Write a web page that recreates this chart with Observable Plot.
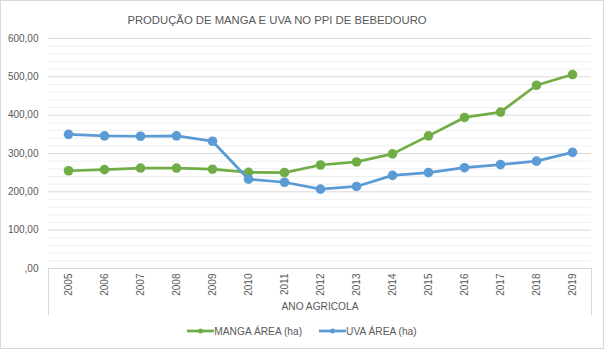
<!DOCTYPE html>
<html>
<head>
<meta charset="utf-8">
<script src="https://cdn.jsdelivr.net/npm/d3@7"></script>
<script src="https://cdn.jsdelivr.net/npm/@observablehq/plot@0.6"></script>
<style>
  html, body { margin: 0; padding: 0; background: #fff; }
  #chart { position: relative; width: 604px; height: 349px; box-sizing: border-box; border: 1px solid #d9d9d9; background: #fff; font-family: "Liberation Sans", Arial, sans-serif; color: #595959; }
  #title { width: 552px; height: 30px; box-sizing: border-box; padding-top: 13px; line-height: 13px; text-align: center; font-size: 11.3px; white-space: nowrap; }
  #box { position: absolute; left: 47px; top: 267px; width: 544px; height: 47px; box-sizing: border-box; border-left: 1px solid #d9d9d9; border-right: 1px solid #d9d9d9; }
  #legend { display: flex; justify-content: center; align-items: center; gap: 17px; height: 24px; font-size: 10.2px; }
  .item { display: flex; align-items: center; }
  .item svg { display: block; }
  svg.plot { display: block; }
</style>
</head>
<body>
<div id="chart">
  <div id="title">PRODUÇÃO DE MANGA E UVA NO PPI DE BEBEDOURO</div>
  <div id="plot"></div>
  <div id="legend"></div>
  <div id="box"></div>
</div>
<script>
const years = ["2005","2006","2007","2008","2009","2010","2011","2012","2013","2014","2015","2016","2017","2018","2019"];
const manga = [255, 258, 262, 262, 259, 251, 250, 270, 278, 299, 346, 394, 408, 478, 506];
const uva   = [350, 346, 345, 346, 332, 233, 225, 207, 214, 243, 250, 263, 271, 280, 303];
const seriesNames = ["MANGA ÁREA (ha)", "UVA ÁREA (ha)"];
const seriesColors = ["#70ad47", "#5b9bd5"];
const yTicks = [0, 100, 200, 300, 400, 500, 600];
const yMinor = [20, 40, 60, 80, 120, 140, 160, 180, 220, 240, 260, 280, 320, 340, 360, 380, 420, 440, 460, 480, 520, 540, 560, 580];
const xLabel = "ANO AGRICOLA";

const mangaData = years.map((y, i) => ({year: y, value: manga[i]}));
const uvaData = years.map((y, i) => ({year: y, value: uva[i]}));

const fmt = v => v === 0 ? ",00" : v.toFixed(2).replace(".", ",");

const chart = Plot.plot({
  width: 602,
  height: 288,
  marginTop: 7,
  marginBottom: 51,
  marginLeft: 47,
  marginRight: 12,
  style: {fontFamily: "'Liberation Sans', Arial, sans-serif", fontSize: "10px", color: "#595959", background: "#fff"},
  x: {type: "point", domain: years, padding: 0.5, axis: null},
  y: {domain: [0, 600], axis: null},
  marks: [
    Plot.ruleY(yMinor, {stroke: "#efefef", strokeWidth: 1}),
    Plot.ruleY(yTicks, {stroke: "#d9d9d9", strokeWidth: 1}),
    Plot.axisY(yTicks, {tickSize: 0, tickPadding: 10, tickFormat: fmt, label: null, fill: "#595959"}),
    Plot.axisX({tickSize: 0, tickPadding: 5, tickRotate: -90, label: null, fill: "#595959"}),
    Plot.text([xLabel], {frameAnchor: "bottom", dy: 41, fill: "#595959", fontSize: 10.2}),
    Plot.line(mangaData, {x: "year", y: "value", stroke: seriesColors[0], strokeWidth: 2.75}),
    Plot.dot(mangaData, {x: "year", y: "value", fill: seriesColors[0], r: 4.8}),
    Plot.line(uvaData, {x: "year", y: "value", stroke: seriesColors[1], strokeWidth: 2.75}),
    Plot.dot(uvaData, {x: "year", y: "value", fill: seriesColors[1], r: 4.8})
  ]
});
document.getElementById("plot").appendChild(chart);

const legend = document.getElementById("legend");
seriesNames.forEach((name, i) => {
  const item = document.createElement("div");
  item.className = "item";
  item.innerHTML = `<svg width="27" height="10"><line x1="0" x2="27" y1="5" y2="5" stroke="${seriesColors[i]}" stroke-width="2.75"/><circle cx="13.5" cy="5" r="2.5" fill="${seriesColors[i]}"/></svg><span>${name}</span>`;
  legend.appendChild(item);
});
</script>
</body>
</html>
